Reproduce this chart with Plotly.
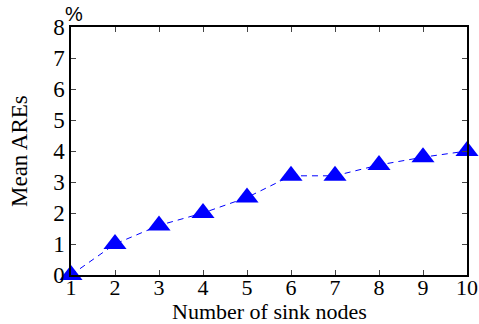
import plotly.graph_objects as go

sink_nodes = [1, 2, 3, 4, 5, 6, 7, 8, 9, 10]
mean_ares = [0.0, 1.0, 1.6, 2.0, 2.5, 3.2, 3.2, 3.55, 3.8, 4.0]
y_ticks = [0, 1, 2, 3, 4, 5, 6, 7, 8]

fig = go.Figure()
fig.add_trace(go.Scatter(
    x=sink_nodes, y=mean_ares, mode="lines+markers",
    line=dict(color="#0000FF", width=1, dash="6px,5px"),
    marker=dict(symbol="triangle-up", size=20, color="#0000FF"),
    cliponaxis=False, showlegend=False,
))

fig.update_layout(
    width=479, height=324,
    margin=dict(l=71, r=12, t=27, b=49),
    paper_bgcolor="white", plot_bgcolor="white",
    font=dict(family="Liberation Serif", size=23, color="black"),
    xaxis=dict(
        range=[1, 10], tickvals=sink_nodes, ticks="inside", ticklen=5,
        showline=True, linecolor="black", linewidth=1.5, mirror="ticks",
        showgrid=False, zeroline=False, automargin=False,
        ticklabelstandoff=-8,
        tickfont=dict(size=22),
    ),
    yaxis=dict(
        range=[0, 8], tickvals=y_ticks, ticks="inside", ticklen=5,
        showline=True, linecolor="black", linewidth=1.5, mirror="ticks",
        showgrid=False, zeroline=False, automargin=False,
        tickfont=dict(size=23),
    ),
    annotations=[
        dict(text="%", x=0, y=1, xref="paper", yref="paper",
             xanchor="left", yanchor="bottom", showarrow=False, xshift=-8, yshift=0,
             font=dict(family="Liberation Sans", size=20, color="black")),
        dict(text="Number of sink nodes", x=0.5, y=0, xref="paper", yref="paper",
             xanchor="center", yanchor="middle", showarrow=False, yshift=-36,
             font=dict(size=22)),
        dict(text="Mean AREs", x=0, y=0.5, xref="paper", yref="paper",
             xanchor="center", yanchor="middle", showarrow=False, xshift=-52,
             textangle=-90, font=dict(size=23)),
    ],
)
fig.write_html("out.html")
